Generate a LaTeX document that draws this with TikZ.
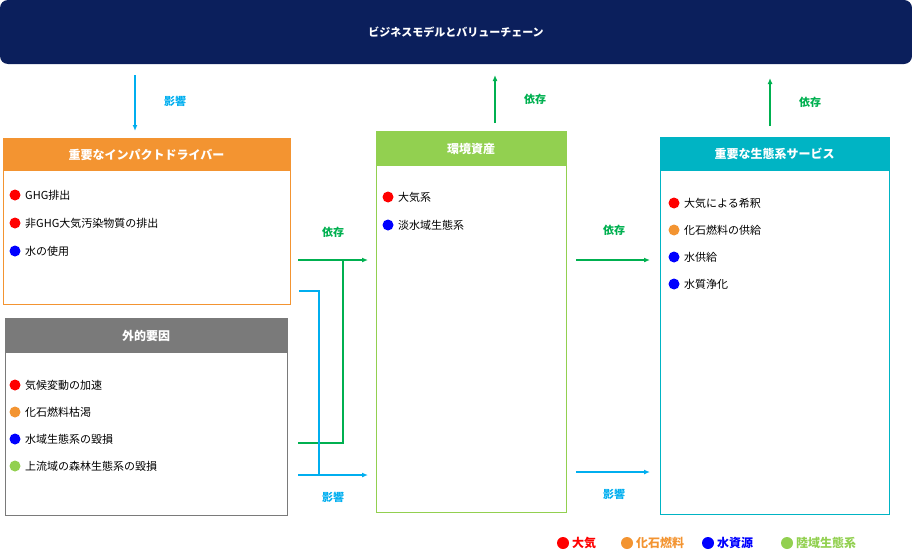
\documentclass[tikz,border=0pt]{standalone}
\usepackage{fontspec}
\setmainfont{Noto Sans CJK JP}
\usetikzlibrary{arrows.meta}
\definecolor{navy}{HTML}{0B1F5C}
\definecolor{org}{HTML}{F39431}
\definecolor{gry}{HTML}{7A7A7A}
\definecolor{grn}{HTML}{92D050}
\definecolor{teal}{HTML}{00B4C4}
\definecolor{dgrn}{HTML}{00B050}
\definecolor{lblue}{HTML}{00AEEF}
\definecolor{rd}{HTML}{FF0000}
\definecolor{bl}{HTML}{0000FF}
\begin{document}
\begin{tikzpicture}[x=1pt,y=-1pt,
 hdr/.style={text=white,font=\bfseries\fontsize{12}{14}\selectfont},
 item/.style={anchor=west,font=\fontsize{11}{13}\selectfont,inner sep=0pt},
 lab/.style={font=\bfseries\fontsize{11}{13}\selectfont},
 arr/.style={-{Latex[length=6pt,width=5pt]},line width=1.5pt},
 ln/.style={line width=1.5pt}]
\useasboundingbox (0,0) rectangle (912,551);
\node[fill=navy,rounded corners=8pt,minimum width=912pt,minimum height=64pt,inner sep=0pt,text=white,font=\bfseries\fontsize{11}{13}\selectfont] (top) at (456,32) {ビジネスモデルとバリューチェーン};
% boxes
\draw[org,fill=white] (3,138) rectangle (290,304);
\fill[org] (3,138) rectangle (290,171);
\node[hdr] (h1) at (146.5,155) {重要なインパクトドライバー};
\draw[gry,fill=white] (5,318) rectangle (287,515);
\fill[gry] (5,318) rectangle (287,353);
\node[hdr] (h2) at (146,336) {外的要因};
\draw[grn,fill=white] (376,131) rectangle (566,512);
\fill[grn] (376,131) rectangle (566,166);
\node[hdr] (h3) at (471,149) {環境資産};
\draw[teal,fill=white] (660,137) rectangle (889,514);
\fill[teal] (660,137) rectangle (889,171);
\node[hdr] (h4) at (774.5,154) {重要な生態系サービス};
% items
\foreach \y/\c/\t [count=\i] in {195/rd/GHG排出,223/rd/非GHG大気汚染物質の排出,251/bl/水の使用,385/rd/気候変動の加速,412/org/化石燃料枯渇,439/bl/水域生態系の毀損,466/grn/上流域の森林生態系の毀損}{
 \fill[\c] (15,\y) circle (5.5);
 \node[item] (a\i) at (25,\y) {\t};}
\foreach \y/\c/\t [count=\i] in {197/rd/大気系,225/bl/淡水域生態系}{
 \fill[\c] (388,\y) circle (5.5);
 \node[item] (b\i) at (398,\y) {\t};}
\foreach \y/\c/\t [count=\i] in {203/rd/大気による希釈,230/org/化石燃料の供給,257/bl/水供給,284/bl/水質浄化}{
 \fill[\c] (674,\y) circle (5.5);
 \node[item] (c\i) at (684,\y) {\t};}
% top arrows
\coordinate (d1s) at (135,75); \coordinate (d1e) at (135,131);
\draw[arr,lblue] (d1s) -- (d1e);
\node[lab,text=lblue] (l1) at (175,101) {影響};
\coordinate (u1s) at (495,123); \coordinate (u1e) at (495,75);
\draw[arr,dgrn] (u1s) -- (u1e);
\node[lab,text=dgrn] (l2) at (535,99) {依存};
\coordinate (u2s) at (770,126); \coordinate (u2e) at (770,78);
\draw[arr,dgrn] (u2s) -- (u2e);
\node[lab,text=dgrn] (l3) at (810,102) {依存};
% middle connectors
\coordinate (g1) at (298,260); \coordinate (g2) at (368,260);
\coordinate (g3) at (298,443);
\draw[arr,dgrn] (g1) -- (g2);
\draw[ln,dgrn] (g3) -- (343,443) -- (343,260);
\coordinate (b1) at (299,291); \coordinate (b2) at (298,475); \coordinate (b3) at (368,475);
\draw[ln,lblue] (b1) -- (319,291) -- (319,475);
\draw[arr,lblue] (b2) -- (b3);
\node[lab,text=dgrn] (l4) at (333,232) {依存};
\node[lab,text=lblue] (l5) at (333,497) {影響};
\coordinate (r1) at (576,260); \coordinate (r2) at (650,260);
\draw[arr,dgrn] (r1) -- (r2);
\node[lab,text=dgrn] (l6) at (614,230) {依存};
\coordinate (r3) at (576,472); \coordinate (r4) at (650,472);
\draw[arr,lblue] (r3) -- (r4);
\node[lab,text=lblue] (l7) at (614,494) {影響};
% legend
\foreach \x/\c/\t [count=\i] in {563/rd/大気,627/org/化石燃料,708/bl/水資源,787/grn/陸域生態系}{
 \fill[\c] (\x,543) circle (6);
 \node[anchor=west,inner sep=0pt,text=\c,font=\bfseries\fontsize{12}{14}\selectfont] (k\i) at (\x+9,543) {\t};}
\end{tikzpicture}
\end{document}
